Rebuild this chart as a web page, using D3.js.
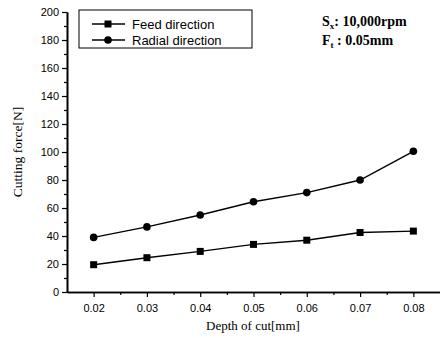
<!DOCTYPE html>
<html>
<head>
<meta charset="utf-8">
<script src="https://cdn.jsdelivr.net/npm/d3@7"></script>
<style>
  body { margin: 0; background: #fff; }
  svg { display: block; }
</style>
</head>
<body>
<script>
// data
var depths = [0.02, 0.03, 0.04, 0.05, 0.06, 0.07, 0.08];
var feedForce = [19.5, 24.5, 29, 34, 37, 42.5, 43.5];
var radialForce = [39, 46.5, 55, 64.5, 71, 80, 100.5];
var seriesNames = ["Feed direction", "Radial direction"];
var yTicks = [0, 20, 40, 60, 80, 100, 120, 140, 160, 180, 200];
var xTicks = [0.02, 0.03, 0.04, 0.05, 0.06, 0.07, 0.08];

var width = 440, height = 338;
var margin = { top: 12, right: 0, bottom: 46, left: 67 };

var svg = d3.select("body").append("svg")
  .attr("width", width)
  .attr("height", height);

var x = d3.scaleLinear().domain([0.015, 0.085]).range([margin.left, width - margin.right]);
var y = d3.scaleLinear().domain([0, 200]).range([height - margin.bottom, margin.top]);

// axes
var xAxis = svg.append("g")
  .attr("transform", "translate(0," + y(0) + ")")
  .call(d3.axisBottom(x).tickValues(xTicks).tickFormat(d3.format(".2f")).tickSize(5).tickSizeOuter(0));

svg.append("g")
  .attr("transform", "translate(0," + y(0) + ")")
  .call(d3.axisBottom(x).tickValues(d3.range(0.025, 0.085, 0.01)).tickFormat("").tickSize(3).tickSizeOuter(0));

var yAxis = svg.append("g")
  .attr("transform", "translate(" + x(0.015) + ",0)")
  .call(d3.axisLeft(y).tickValues(yTicks).tickSize(5).tickSizeOuter(0));

svg.append("g")
  .attr("transform", "translate(" + x(0.015) + ",0)")
  .call(d3.axisLeft(y).tickValues(d3.range(10, 200, 20)).tickFormat("").tickSize(3).tickSizeOuter(0));

svg.selectAll(".domain").attr("stroke", "#000").attr("stroke-width", 1.6);
svg.selectAll(".tick line").attr("stroke", "#000").attr("stroke-width", 1.2);
svg.selectAll(".tick text")
  .attr("font-family", "Liberation Sans, Arial, sans-serif")
  .attr("font-size", 11)
  .attr("fill", "#000");
xAxis.selectAll(".tick text").attr("dy", "1.05em");

// lines
var line = d3.line()
  .x(function (d, i) { return x(depths[i]); })
  .y(function (d) { return y(d); });

svg.append("path").datum(feedForce)
  .attr("fill", "none").attr("stroke", "#000").attr("stroke-width", 1.4)
  .attr("d", line);
svg.append("path").datum(radialForce)
  .attr("fill", "none").attr("stroke", "#000").attr("stroke-width", 1.4)
  .attr("d", line);

svg.selectAll(".sq").data(feedForce).enter().append("rect")
  .attr("x", function (d, i) { return x(depths[i]) - 3.5; })
  .attr("y", function (d) { return y(d) - 3.5; })
  .attr("width", 7).attr("height", 7)
  .attr("fill", "#000");

svg.selectAll(".dot").data(radialForce).enter().append("circle")
  .attr("cx", function (d, i) { return x(depths[i]); })
  .attr("cy", function (d) { return y(d); })
  .attr("r", 3.8)
  .attr("fill", "#000");

// legend
var legend = svg.append("g");
legend.append("rect")
  .attr("x", 79).attr("y", 10).attr("width", 173).attr("height", 38)
  .attr("fill", "#fff").attr("stroke", "#000").attr("stroke-width", 1);

seriesNames.forEach(function (name, i) {
  var ly = 24 + i * 16;
  legend.append("line")
    .attr("x1", 92).attr("x2", 125).attr("y1", ly).attr("y2", ly)
    .attr("stroke", "#000").attr("stroke-width", 1.4);
  if (i === 0) {
    legend.append("rect").attr("x", 104.5).attr("y", ly - 3.5).attr("width", 7).attr("height", 7).attr("fill", "#000");
  } else {
    legend.append("circle").attr("cx", 108).attr("cy", ly).attr("r", 3.8).attr("fill", "#000");
  }
  legend.append("text")
    .attr("x", 132).attr("y", ly + 4.5)
    .attr("font-family", "Liberation Sans, Arial, sans-serif")
    .attr("font-size", 13)
    .text(name);
});

// conditions note
var note = svg.append("g")
  .attr("font-family", "Liberation Serif, Times New Roman, serif")
  .attr("font-weight", "bold")
  .attr("font-size", 14);
var t1 = note.append("text").attr("x", 322).attr("y", 26);
t1.append("tspan").text("S");
t1.append("tspan").attr("font-size", 9).attr("dy", 3).text("x");
t1.append("tspan").attr("dy", -3).text(": 10,000rpm");
var t2 = note.append("text").attr("x", 322).attr("y", 45);
t2.append("tspan").text("F");
t2.append("tspan").attr("font-size", 9).attr("dy", 3).text("t");
t2.append("tspan").attr("dy", -3).text(" : 0.05mm");

// axis titles
svg.append("text")
  .attr("x", 253).attr("y", 330)
  .attr("text-anchor", "middle")
  .attr("font-family", "Liberation Serif, Times New Roman, serif")
  .attr("font-size", 13)
  .text("Depth of cut[mm]");

svg.append("text")
  .attr("transform", "translate(22," + y(100) + ") rotate(-90)")
  .attr("text-anchor", "middle")
  .attr("font-family", "Liberation Serif, Times New Roman, serif")
  .attr("font-size", 13.5)
  .text("Cutting force[N]");
</script>
</body>
</html>
